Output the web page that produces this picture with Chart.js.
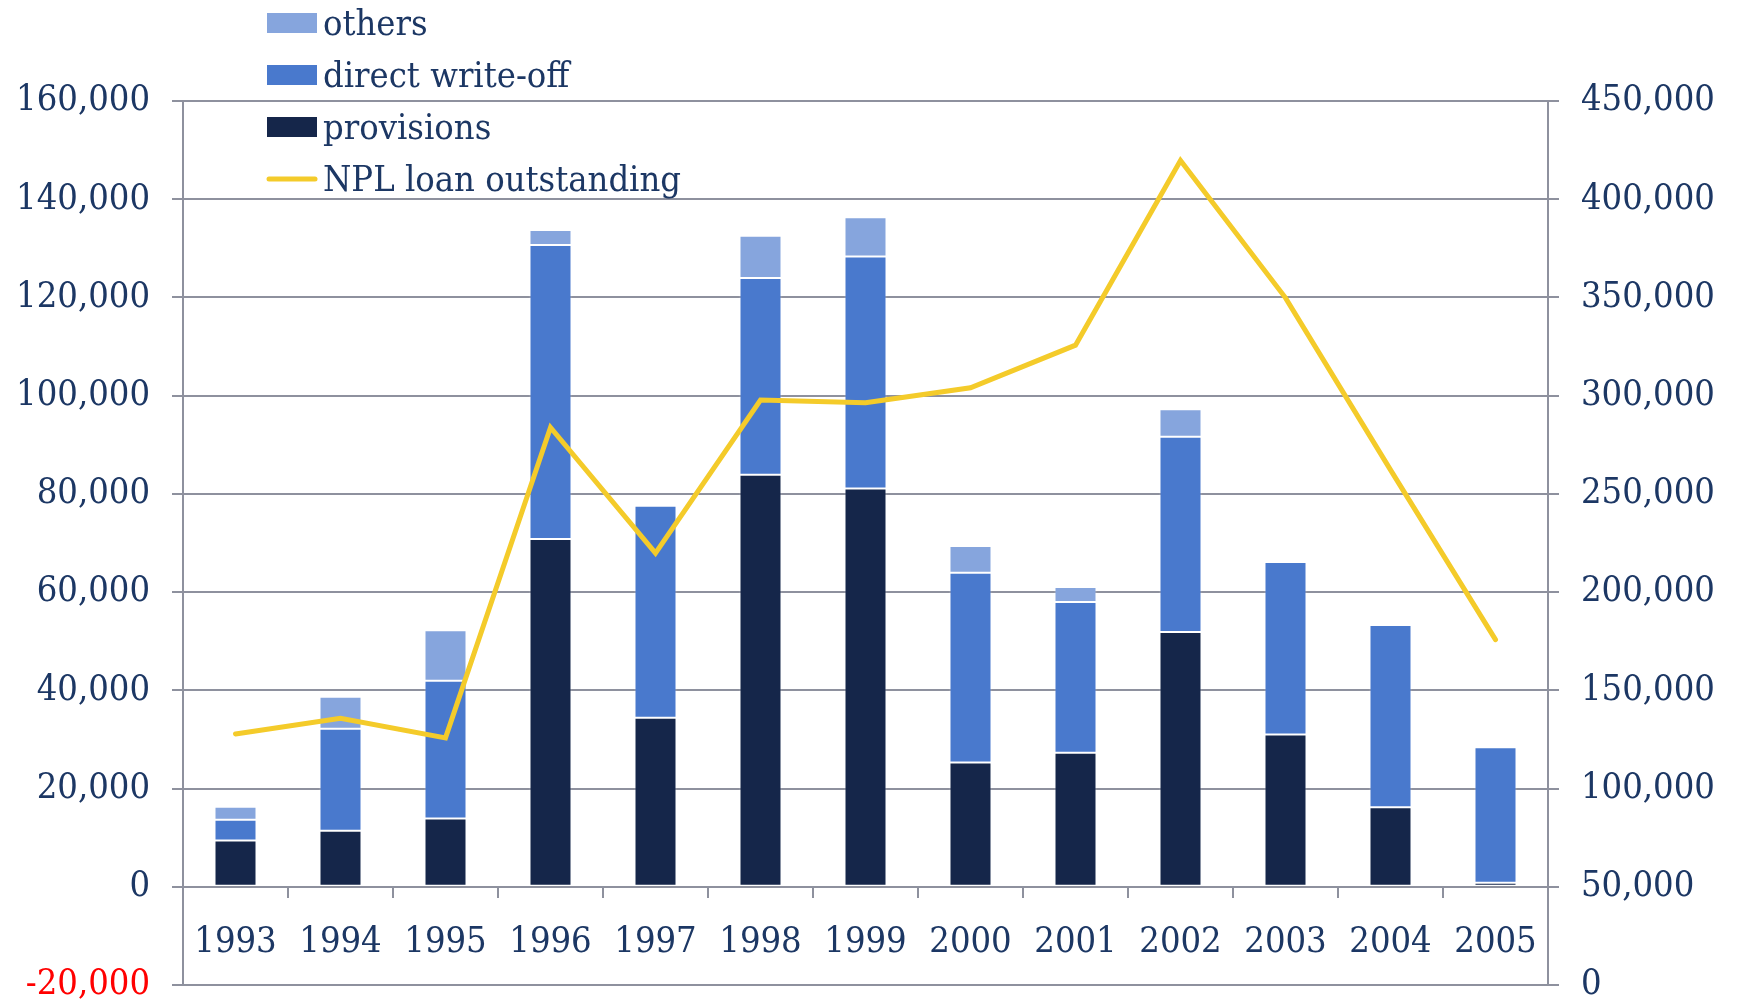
<!DOCTYPE html>
<html>
<head>
<meta charset="utf-8">
<title>NPL disposal and outstanding loans</title>
<script src="https://cdn.jsdelivr.net/npm/chart.js@4.4.1/dist/chart.umd.min.js"></script>
<style>
  html, body { margin: 0; padding: 0; background: #fff; }
  canvas { display: block; }
</style>
</head>
<body>
<canvas id="chart" width="1743" height="1000"></canvas>
<script>
const years = ['1993', '1994', '1995', '1996', '1997', '1998', '1999', '2000', '2001', '2002', '2003', '2004', '2005'];
const provisions = [9400, 11400, 13900, 70800, 34400, 83900, 81100, 25300, 27300, 51900, 31000, 16200, 800];
const directWriteOff = [4250, 20800, 28050, 59900, 43200, 40050, 47250, 38650, 30700, 39750, 35150, 37100, 27600];
const others = [2650, 6500, 10300, 3050, 0, 8600, 8000, 5450, 3050, 5600, 400, 350, 0];
const nplOutstanding = [127800, 135800, 125800, 283800, 219800, 297800, 296400, 304000, 325700, 419700, 349800, 262200, 175800];

const TEXT_COLOR = '#1c3764';
const GRID_COLOR = '#8e919e';
const FONT_FAMILY = '"DejaVu Serif Condensed", "Liberation Serif", serif';
const FONT_SIZE = 36;

const formatNumber = (value) => value.toLocaleString('en-US');

// legend stacked in the top-left corner, drawn over the plot
const cornerLegend = {
  id: 'cornerLegend',
  afterDraw(chart, args, opts) {
    const {ctx} = chart;
    ctx.save();
    ctx.font = `${opts.fontSize}px ${FONT_FAMILY}`;
    ctx.textBaseline = 'middle';
    opts.order.forEach((index, row) => {
      const dataset = chart.data.datasets[index];
      const y = opts.top + row * opts.rowHeight;
      if (dataset.type === 'line') {
        ctx.strokeStyle = dataset.borderColor;
        ctx.lineWidth = dataset.borderWidth;
        ctx.lineCap = 'round';
        ctx.beginPath();
        ctx.moveTo(opts.left + 2, y);
        ctx.lineTo(opts.left + opts.boxWidth - 2, y);
        ctx.stroke();
      } else {
        ctx.fillStyle = dataset.backgroundColor;
        ctx.fillRect(opts.left, y - opts.boxHeight / 2, opts.boxWidth, opts.boxHeight);
      }
      ctx.fillStyle = TEXT_COLOR;
      ctx.fillText(dataset.label, opts.left + opts.boxWidth + 6, y + opts.textShift);
    });
    ctx.restore();
  }
};

const barDefaults = {
  type: 'bar',
  yAxisID: 'y',
  stack: 'loss',
  order: 1,
  barPercentage: 0.4,
  categoryPercentage: 1,
  borderWidth: 1,
  borderColor: 'rgba(255, 255, 255, 0.3)',
  borderSkipped: false,
};

const tickFont = {family: FONT_FAMILY, size: FONT_SIZE};

new Chart(document.getElementById('chart'), {
  data: {
    labels: years,
    datasets: [
      Object.assign({}, barDefaults, {label: 'provisions', data: provisions, backgroundColor: '#15264a'}),
      Object.assign({}, barDefaults, {label: 'direct write-off', data: directWriteOff, backgroundColor: '#4979cd'}),
      Object.assign({}, barDefaults, {label: 'others', data: others, backgroundColor: '#86a5dd'}),
      {
        type: 'line',
        label: 'NPL loan outstanding',
        data: nplOutstanding,
        yAxisID: 'y1',
        order: 0,
        borderColor: '#f4cb2a',
        borderWidth: 5,
        borderCapStyle: 'round',
        borderJoinStyle: 'miter',
        pointRadius: 0,
        tension: 0,
      },
    ],
  },
  options: {
    responsive: false,
    animation: false,
    layout: {padding: {top: 101, bottom: 15, left: 0, right: 0}},
    plugins: {
      legend: {display: false},
      tooltip: {enabled: false},
      cornerLegend: {order: [2, 1, 0, 3], left: 267, top: 23, rowHeight: 52, boxWidth: 50, boxHeight: 20, fontSize: 36, textShift: 3},
    },
    scales: {
      x: {
        position: {y: 0},
        stacked: true,
        offset: true,
        grid: {display: true, drawOnChartArea: false, drawTicks: true, tickLength: 10, color: GRID_COLOR, lineWidth: 2, offset: true},
        border: {display: true, color: GRID_COLOR, width: 2},
        ticks: {color: TEXT_COLOR, font: tickFont, padding: 24, maxRotation: 0, autoSkip: false},
      },
      y: {
        position: 'left',
        stacked: true,
        min: -20000,
        max: 160000,
        ticks: {
          stepSize: 20000,
          callback: formatNumber,
          color: (ctx) => ctx.tick.value < 0 ? '#ff0000' : TEXT_COLOR,
          font: tickFont,
          padding: 22,
        },
        grid: {color: GRID_COLOR, lineWidth: 2, tickLength: 11},
        border: {color: GRID_COLOR, width: 2},
        afterFit: (scale) => {
          scale.width = 183;
          scale.paddingTop = 0;
          scale.paddingBottom = 0;
        },
      },
      y1: {
        position: 'right',
        min: 0,
        max: 450000,
        ticks: {stepSize: 50000, callback: formatNumber, color: TEXT_COLOR, font: tickFont, padding: 22},
        grid: {drawOnChartArea: false, color: GRID_COLOR, lineWidth: 2, tickLength: 11},
        border: {color: GRID_COLOR, width: 2},
        afterFit: (scale) => {
          scale.width = 195;
          scale.paddingTop = 0;
          scale.paddingBottom = 0;
        },
      },
    },
  },
  plugins: [cornerLegend],
});
</script>
</body>
</html>
